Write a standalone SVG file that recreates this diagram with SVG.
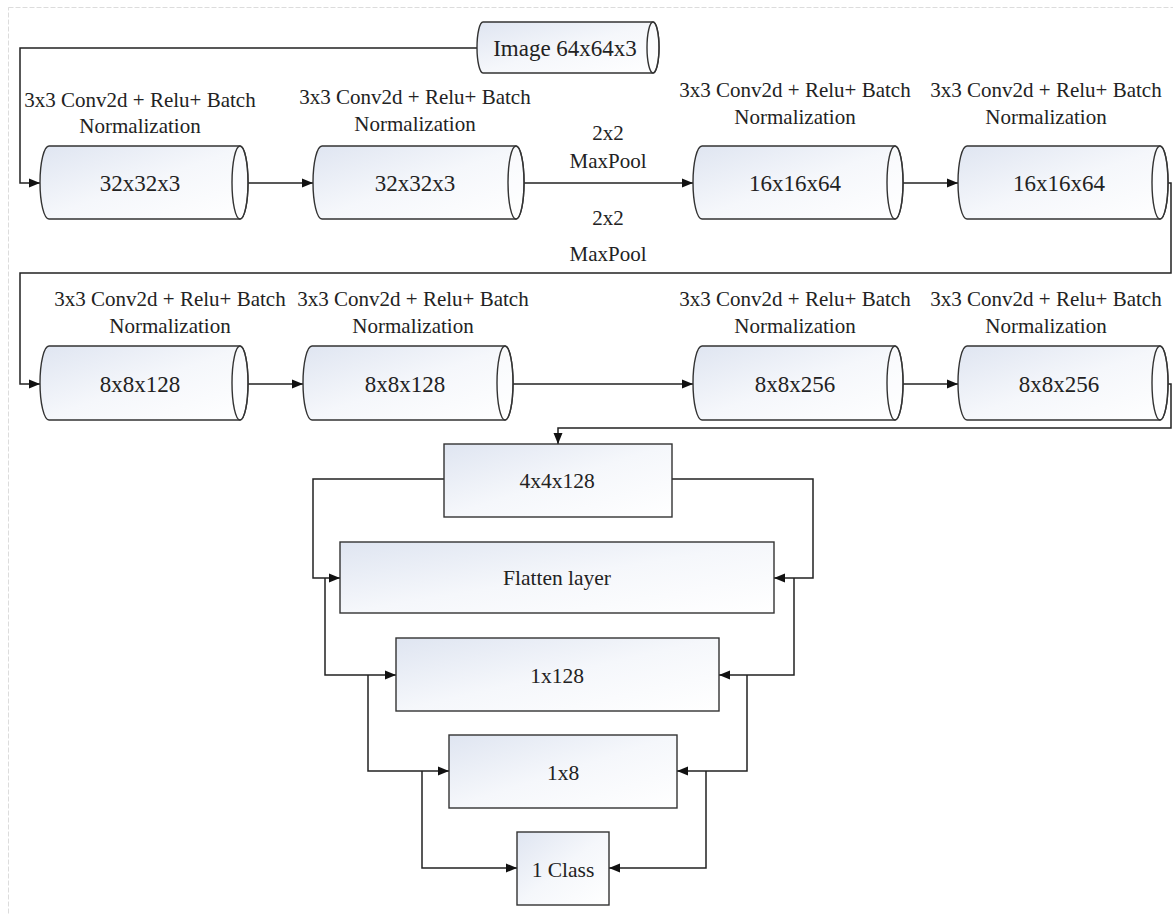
<svg xmlns="http://www.w3.org/2000/svg" width="1173" height="914" viewBox="0 0 1173 914">
<defs>
<linearGradient id="g" x1="0" y1="0" x2="1" y2="1">
<stop offset="0" stop-color="#dfe5f1"/>
<stop offset="0.5" stop-color="#f5f7fb"/>
<stop offset="1" stop-color="#ffffff"/>
</linearGradient>
<marker id="ah" markerUnits="userSpaceOnUse" markerWidth="12" markerHeight="10" refX="11" refY="5" orient="auto">
<path d="M0,0.5 L11,5 L0,9.5 z" fill="#111"/>
</marker>
<style>
.cyl{fill:url(#g);stroke:#333;stroke-width:1.4}
.end{fill:#fff;fill-opacity:0.35;stroke:#333;stroke-width:1.4}
.box{fill:url(#g);stroke:#333;stroke-width:1.4}
.c{fill:none;stroke:#222;stroke-width:1.5;marker-end:url(#ah)}
text{fill:#222;text-anchor:middle}
.t{font-size:23px}
.b{font-size:21.5px}
.l{font-size:21px}
</style>
</defs>
<rect width="1173" height="914" fill="#fff"/>
<rect x="8.5" y="7.5" width="1175" height="930" fill="none" stroke="#dcdcdc" stroke-width="1" stroke-dasharray="5 2"/>

<g id="connectors">
<path class="c" d="M477,48 H20 V183 H40"/>
<path class="c" d="M248,183 H313"/>
<path class="c" d="M524,183 H693"/>
<path class="c" d="M903,183 H958"/>
<path class="c" d="M1168,183 H1171 V273 H20 V384 H40"/>
<path class="c" d="M248,384 H303"/>
<path class="c" d="M513,384 H693"/>
<path class="c" d="M903,384 H958"/>
<path class="c" d="M1168,384 H1171 V428 H558 V444"/>
<path class="c" d="M444,479 H313 V578 H340"/>
<path class="c" d="M672,479 H813 V578 H774"/>
<path class="c" d="M325,578 V675 H396"/>
<path class="c" d="M794,578 V675 H719"/>
<path class="c" d="M368,675 V771 H449"/>
<path class="c" d="M747,675 V771 H677"/>
<path class="c" d="M422,771 V868 H517"/>
<path class="c" d="M706,771 V868 H609"/>
</g>

<g font-family="'Liberation Serif', 'DejaVu Serif', serif">
<g id="labels">
<text class="l" x="140" y="107">3x3 Conv2d + Relu+ Batch</text>
<text class="l" x="140" y="133">Normalization</text>
<text class="l" x="415" y="104">3x3 Conv2d + Relu+ Batch</text>
<text class="l" x="415" y="131">Normalization</text>
<text class="l" x="795" y="97">3x3 Conv2d + Relu+ Batch</text>
<text class="l" x="795" y="124">Normalization</text>
<text class="l" x="1046" y="97">3x3 Conv2d + Relu+ Batch</text>
<text class="l" x="1046" y="124">Normalization</text>
<text class="l" x="608" y="140">2x2</text>
<text class="l" x="608" y="168">MaxPool</text>
<text class="l" x="608" y="225">2x2</text>
<text class="l" x="608" y="261">MaxPool</text>
<text class="l" x="170" y="306">3x3 Conv2d + Relu+ Batch</text>
<text class="l" x="170" y="333">Normalization</text>
<text class="l" x="413" y="306">3x3 Conv2d + Relu+ Batch</text>
<text class="l" x="413" y="333">Normalization</text>
<text class="l" x="795" y="306">3x3 Conv2d + Relu+ Batch</text>
<text class="l" x="795" y="333">Normalization</text>
<text class="l" x="1046" y="306">3x3 Conv2d + Relu+ Batch</text>
<text class="l" x="1046" y="333">Normalization</text>
</g>

<g id="image">
<path class="cyl" d="M483,22 H653 A6,25.5 0 0 1 653,73 H483 A6,25.5 0 0 1 483,22 Z"/>
<ellipse class="end" cx="653" cy="47.5" rx="6" ry="25.5"/>
<text class="t" x="565" y="56">Image 64x64x3</text>
</g>

<g id="cyl1">
<path class="cyl" d="M49,146 H240 A8,36.5 0 0 1 240,219 H49 A9,36.5 0 0 1 49,146 Z"/>
<ellipse class="end" cx="240" cy="182.5" rx="8" ry="36.5"/>
<text class="t" x="140" y="191">32x32x3</text>
</g>
<g id="cyl2">
<path class="cyl" d="M322,146 H516 A8,36.5 0 0 1 516,219 H322 A9,36.5 0 0 1 322,146 Z"/>
<ellipse class="end" cx="516" cy="182.5" rx="8" ry="36.5"/>
<text class="t" x="415" y="191">32x32x3</text>
</g>
<g id="cyl3">
<path class="cyl" d="M702,146 H895 A8,36.5 0 0 1 895,219 H702 A9,36.5 0 0 1 702,146 Z"/>
<ellipse class="end" cx="895" cy="182.5" rx="8" ry="36.5"/>
<text class="t" x="795" y="191">16x16x64</text>
</g>
<g id="cyl4">
<path class="cyl" d="M967,146 H1160 A8,36.5 0 0 1 1160,219 H967 A9,36.5 0 0 1 967,146 Z"/>
<ellipse class="end" cx="1160" cy="182.5" rx="8" ry="36.5"/>
<text class="t" x="1059" y="191">16x16x64</text>
</g>

<g id="cyl5">
<path class="cyl" d="M49,346 H240 A8,37 0 0 1 240,420 H49 A9,37 0 0 1 49,346 Z"/>
<ellipse class="end" cx="240" cy="383" rx="8" ry="37"/>
<text class="t" x="140" y="392">8x8x128</text>
</g>
<g id="cyl6">
<path class="cyl" d="M312,346 H505 A8,37 0 0 1 505,420 H312 A9,37 0 0 1 312,346 Z"/>
<ellipse class="end" cx="505" cy="383" rx="8" ry="37"/>
<text class="t" x="405" y="392">8x8x128</text>
</g>
<g id="cyl7">
<path class="cyl" d="M702,346 H895 A8,37 0 0 1 895,420 H702 A9,37 0 0 1 702,346 Z"/>
<ellipse class="end" cx="895" cy="383" rx="8" ry="37"/>
<text class="t" x="795" y="392">8x8x256</text>
</g>
<g id="cyl8">
<path class="cyl" d="M967,346 H1160 A8,37 0 0 1 1160,420 H967 A9,37 0 0 1 967,346 Z"/>
<ellipse class="end" cx="1160" cy="383" rx="8" ry="37"/>
<text class="t" x="1059" y="392">8x8x256</text>
</g>

<g id="box4x4">
<rect class="box" x="444" y="444" width="228" height="73"/>
<text class="b" x="557" y="488">4x4x128</text>
</g>
<g id="flatten">
<rect class="box" x="340" y="542" width="434" height="71"/>
<text class="b" x="557" y="585">Flatten layer</text>
</g>
<g id="fc128">
<rect class="box" x="396" y="638" width="323" height="73"/>
<text class="b" x="557" y="683">1x128</text>
</g>
<g id="fc8">
<rect class="box" x="449" y="735" width="228" height="73"/>
<text class="b" x="563" y="780">1x8</text>
</g>
<g id="out">
<rect class="box" x="517" y="832" width="92" height="73"/>
<text class="b" x="563" y="877">1 Class</text>
</g>
</g>
</svg>
